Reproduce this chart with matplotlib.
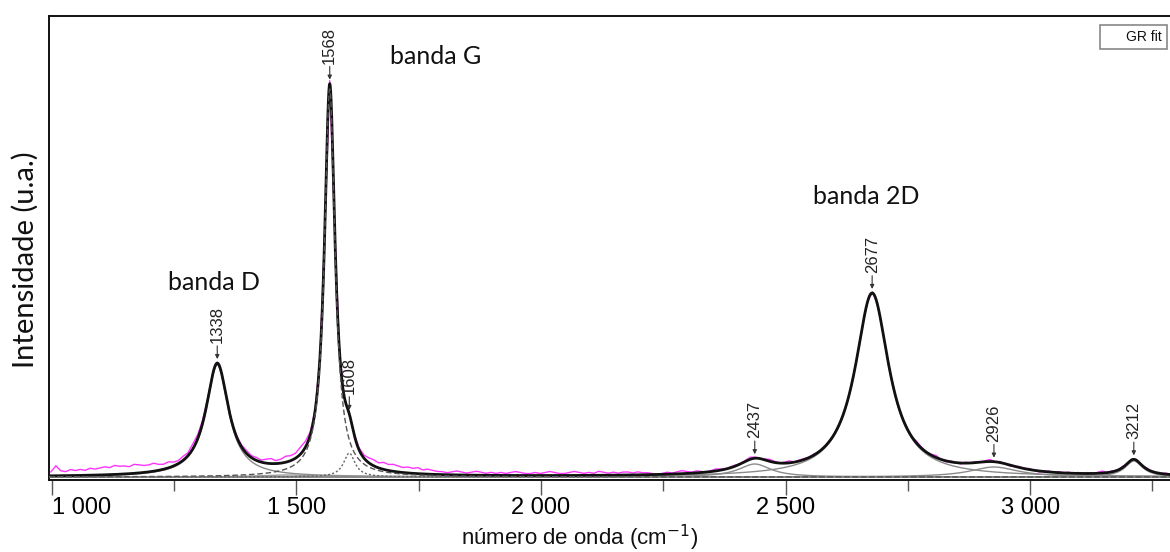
import numpy as np
import matplotlib
matplotlib.use("Agg")
import matplotlib.pyplot as plt
from matplotlib import font_manager
from matplotlib.patches import Rectangle

# ---------------- data ----------------
# Lorentzian components of the fit: centre (cm-1), height (u.a.), half width (cm-1)
peak_centers = [1338, 1480, 1568, 1608, 2437, 2677, 2926, 3212]
peak_heights = [112, 2, 388, 24, 13, 183, 10, 16]
peak_hwhm = [28, 70, 13, 14, 40, 42, 60, 22]

# labelled peaks
label_peaks = [1338, 1568, 1608, 2437, 2677, 2926, 3212]
label_texts = ["1338", "1568", "1608", "2437", "2677", "2926", "3212"]

# band names
band_texts = ["banda D", "banda G", "banda 2D"]

# measured spectrum: wavenumbers and deviation of the measurement from the fit
spec_wn = np.arange(998, 3289, 10)
spec_residual = [
    4, 10, 5, 4, 6, 5, 6, 5, 7, 6,
    7, 8, 7, 9, 8, 8, 7, 9, 8, 7,
    7, 8, 6, 5, 6, 4, 3, 4, 3, 5,
    4, 3, 2, 1, 1, 0, 1, 0, 1, 2,
    3, 2, 3, 2, 4, 5, 3, 4, 6, 5,
    5, 7, 6, 3, 1, 0, 0, 3, 0, 0,
    0, 1, 1, 2, 3, 5, 6, 5, 7, 6,
    7, 6, 5, 6, 5, 6, 4, 5, 4, 3,
    3, 2, 3, 4, 3, 2, 3, 4, 3, 2,
    3, 2, 3, 2, 3, 4, 3, 2, 2, 3,
    2, 3, 4, 3, 2, 2, 3, 4, 3, 2,
    3, 2, 4, 3, 2, 3, 2, 3, 3, 2,
    3, 2, 2, 1, 0, 1, 2, 1, 2, 3,
    2, 1, 2, 1, 0, 1, 2, 1, 0, 1,
    1, 0, 1, 2, 1, 0, 1, 2, 1, 0,
    1, 2, 0, 1, 1, 0, 1, 0, 0, 1,
    0, 1, 0, 0, 1, 0, 0, 0, 1, 0,
    0, 0, 1, 0, 0, 1, 0, 2, 1, 0,
    1, 2, 0, -1, 1, 0, -1, 1, 0, 1,
    0, 1, 2, 0, 1, 0, -1, 0, 1, 0,
    1, 0, -1, 0, 1, 0, 1, 0, 1, 0,
    1, 0, 1, 0, 1, 2, 0, 1, 0, 1,
    0, 1, 1, 0, 1, 0, -1, 0, 1, 0,
]

tick_values = [1000, 1500, 2000, 2500, 3000]
tick_labels = ["1 000", "1 500", "2 000", "2 500", "3 000"]
minor_tick_values = [1250, 1750, 2250, 2750, 3250]

# ---------------- styles / layout ----------------
comp_styles = [
    dict(color="#8a8a8a", lw=1.0, ls="-"),
    dict(color="#9a9a9a", lw=1.0, ls="-"),
    dict(color="#555555", lw=1.0, ls=(0, (4, 2))),
    dict(color="#666666", lw=1.0, ls=(0, (1.5, 1.5))),
    dict(color="#8a8a8a", lw=1.0, ls="-"),
    dict(color="#8a8a8a", lw=1.0, ls="-"),
    dict(color="#8a8a8a", lw=1.0, ls="-"),
    dict(color="#8a8a8a", lw=1.0, ls="-"),
]
band_xy = [(1331, 195), (1785, 421), (2665, 281)]

names = {f.name for f in font_manager.fontManager.ttflist}
narrow = "Liberation Sans Narrow" if "Liberation Sans Narrow" in names else "Liberation Sans"
humanist = "Lato" if "Lato" in names else "DejaVu Sans"


def lorentz(x, c, h, w):
    return h / (1.0 + ((x - c) / w) ** 2)


def fit_total(x):
    return sum(lorentz(x, c, h, w) for c, h, w in zip(peak_centers, peak_heights, peak_hwhm))


W, H = 1170, 552
fig = plt.figure(figsize=(W / 100, H / 100), dpi=100)
ax = fig.add_axes([49 / W, (H - 480) / H, (W - 49) / W, (480 - 16) / H])

xmin, xmax = 994, 3286
ax.set_xlim(xmin, xmax)
ax.set_ylim(-3, 461)

xx = np.linspace(xmin, xmax, 5000)

# measured spectrum
spec_y = fit_total(spec_wn) + np.array(spec_residual)
ax.plot(spec_wn, spec_y, color="#ff33ff", lw=1.0, zorder=1)

# total fit
ax.plot(xx, fit_total(xx), color="#111111", lw=2.0, zorder=3)

# components
for (c, h, w), st in zip(zip(peak_centers, peak_heights, peak_hwhm), comp_styles):
    z = 4 if st["ls"] != "-" else 2
    ax.plot(xx, lorentz(xx, c, h, w), zorder=z, **st)

# peak labels with arrows
for p, t in zip(label_peaks, label_texts):
    yv = fit_total(np.array([p]))[0]
    ax.annotate(t, xy=(p, yv + 4), xytext=(p, yv + 20), rotation=90,
                ha="center", va="bottom", fontsize=12, family=narrow, color="#222222",
                arrowprops=dict(arrowstyle="-|>", color="#333333", lw=0.8,
                                mutation_scale=6, shrinkA=0, shrinkB=0),
                zorder=6)

# band names
for t, (bx, by) in zip(band_texts, band_xy):
    ax.text(bx, by, t, ha="center", va="center", fontsize=18, family=humanist, color="#111111")

# axes styling
ax.spines["right"].set_visible(False)
for s in ["left", "top", "bottom"]:
    ax.spines[s].set_linewidth(1.4)
    ax.spines[s].set_color("#111111")
ax.set_yticks([])
ax.set_xticks(tick_values)
ax.set_xticklabels(tick_labels, fontsize=17, family="Liberation Sans")
ax.set_xticks(minor_tick_values, minor=True)
ax.tick_params(axis="x", which="major", length=11, width=1.0, color="#555555", pad=1)
ax.tick_params(axis="x", which="minor", length=8, width=1.0, color="#555555")
ax.get_xticklabels()[0].set_ha("left")

# axis titles
fig.text(580 / W, 1 - 538 / H, "número de onda (cm$^{-1}$)", ha="center", va="center",
         fontsize=16, family=narrow, color="#111111")
fig.text(25 / W, 1 - 260 / H, "Intensidade (u.a.)", rotation=90, ha="center", va="center",
         fontsize=21, family=humanist, color="#111111")

# legend box
fig.patches.append(Rectangle((1100 / W, 1 - 49 / H), 67 / W, 24 / H, transform=fig.transFigure,
                             facecolor="white", edgecolor="#888888", lw=1.2))
fig.text(1162 / W, 1 - 37 / H, "GR fit", ha="right", va="center", fontsize=10,
         family="Liberation Sans", color="#111111")

fig.savefig("out.png", dpi=100)
